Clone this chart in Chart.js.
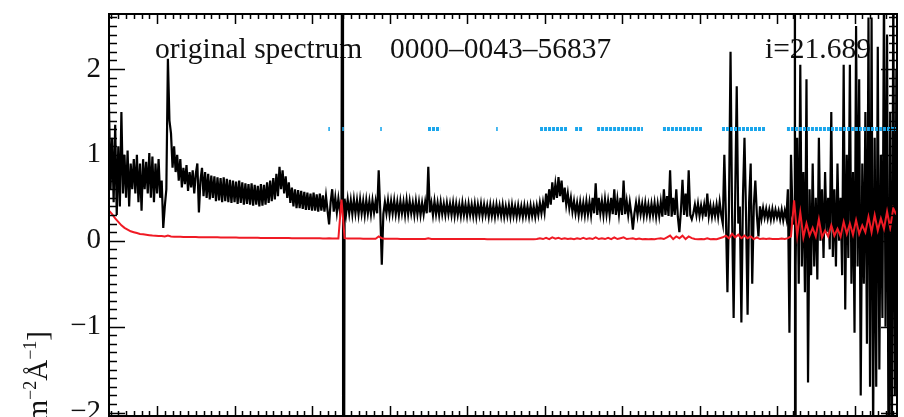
<!DOCTYPE html>
<html>
<head>
<meta charset="utf-8">
<script src="https://cdn.jsdelivr.net/npm/chart.js@4.4.0/dist/chart.umd.min.js"></script>
<style>
  html, body { margin: 0; padding: 0; background: #fff; }
  #wrap { width: 904px; height: 417px; position: relative; }
</style>
</head>
<body>
<div id="wrap"><canvas id="spec"></canvas></div>
<script>
// wavelength grid of the spectrum (Angstrom)
const waveStart = 3690;
const waveStep = 10;
const errStep = 20;

// flux (10^-17 erg s^-1 cm^-2 A^-1)
const flux = [
  1.55, 0.60, 1.20, 0.45, 1.35, 0.30, 1.10, 0.40, 1.50, 0.55,
  1.00, 0.50, 1.05, 0.40, 0.90, 0.60, 0.95, 0.55, 1.00, 0.45,
  0.90, 0.35, 0.95, 0.60, 0.92, 0.55, 1.02, 0.50, 0.98, 0.45,
  0.90, 0.55, 0.95, 0.50, 0.70, 0.15, 0.40, 0.60, 2.12, 1.40,
  1.25, 0.85, 1.10, 0.80, 1.00, 0.70, 0.95, 0.62, 0.85, 0.66,
  0.88, 0.58, 0.80, 0.62, 0.82, 0.55, 0.78, 0.90, 0.33, 0.70,
  0.85, 0.52, 0.80, 0.50, 0.78, 0.48, 0.76, 0.50, 0.75, 0.46,
  0.74, 0.47, 0.73, 0.45, 0.74, 0.46, 0.72, 0.45, 0.71, 0.44,
  0.70, 0.45, 0.69, 0.43, 0.70, 0.44, 0.68, 0.42, 0.67, 0.43,
  0.66, 0.42, 0.67, 0.41, 0.65, 0.42, 0.64, 0.40, 0.66, 0.41,
  0.65, 0.42, 0.68, 0.44, 0.70, 0.46, 0.73, 0.48, 0.78, 0.52,
  0.86, 0.60, 0.82, 0.55, 0.75, 0.50, 0.68, 0.44, 0.62, 0.40,
  0.60, 0.38, 0.59, 0.38, 0.58, 0.37, 0.57, 0.36, 0.56, 0.36,
  0.55, 0.35, 0.56, 0.35, 0.54, 0.34, 0.55, 0.35, 0.53, 0.34,
  0.52, 0.35, 0.19, 0.45, 0.60, 0.34, 0.50, 0.33, 0.49, 0.34,
  0.48, 0.33, 0.49, 0.32, 0.48, 0.32, 0.47, 0.31, 0.48, 0.32,
  0.47, 0.31, 0.48, 0.32, 0.46, 0.30, 0.47, 0.32, 0.46, 0.31,
  0.47, 0.33, 0.46, 0.32, 0.82, 0.35, -0.28, 0.31, 0.45, 0.32,
  0.47, 0.31, 0.46, 0.32, 0.47, 0.31, 0.45, 0.30, 0.46, 0.32,
  0.45, 0.30, 0.47, 0.31, 0.46, 0.32, 0.44, 0.30, 0.46, 0.31,
  0.45, 0.30, 0.44, 0.31, 0.45, 0.32, 0.86, 0.33, 0.44, 0.30,
  0.46, 0.31, 0.44, 0.30, 0.45, 0.31, 0.43, 0.30, 0.44, 0.31,
  0.43, 0.30, 0.44, 0.29, 0.43, 0.30, 0.42, 0.29, 0.44, 0.30,
  0.42, 0.29, 0.43, 0.30, 0.42, 0.29, 0.43, 0.28, 0.42, 0.30,
  0.43, 0.29, 0.42, 0.30, 0.41, 0.28, 0.42, 0.29, 0.41, 0.28,
  0.42, 0.30, 0.41, 0.29, 0.42, 0.28, 0.40, 0.29, 0.41, 0.28,
  0.42, 0.29, 0.40, 0.28, 0.41, 0.29, 0.40, 0.28, 0.41, 0.29,
  0.40, 0.28, 0.41, 0.29, 0.40, 0.28, 0.41, 0.30, 0.44, 0.32,
  0.45, 0.33, 0.55, 0.38, 0.60, 0.42, 0.68, 0.48, 0.66, 0.50,
  0.74, 0.52, 0.70, 0.45, 0.62, 0.42, 0.55, 0.38, 0.50, 0.34,
  0.46, 0.32, 0.44, 0.30, 0.45, 0.31, 0.44, 0.30, 0.46, 0.31,
  0.45, 0.30, 0.50, 0.32, 0.67, 0.30, 0.50, 0.32, 0.46, 0.30,
  0.48, 0.31, 0.46, 0.30, 0.50, 0.31, 0.60, 0.30, 0.48, 0.31,
  0.50, 0.30, 0.70, 0.31, 0.46, 0.30, 0.45, 0.31, 0.13, 0.32,
  0.44, 0.30, 0.45, 0.31, 0.43, 0.29, 0.44, 0.30, 0.42, 0.29,
  0.43, 0.30, 0.44, 0.28, 0.43, 0.29, 0.45, 0.28, 0.60, 0.30,
  0.52, 0.29, 0.82, 0.28, 0.50, 0.30, 0.60, 0.28, 0.10, 0.35,
  0.71, 0.30, 0.55, 0.28, 0.82, 0.30, 0.25, 0.32, 0.42, 0.30,
  0.43, 0.29, 0.41, 0.30, 0.42, 0.28, 0.55, 0.29, 0.41, 0.28,
  0.40, 0.29, 0.42, 0.28, 0.45, 0.30, 0.20, 1.00, 0.30, -0.60,
  0.40, 2.20, 0.30, -0.90, 0.50, 1.80, 0.20, 0.40, -0.95, 0.50,
  1.20, 0.30, -0.86, 0.45, 0.90, -0.50, 0.40, 0.70, 0.30, 0.05,
  0.40, 0.26, 0.38, 0.27, 0.37, 0.26, 0.36, 0.25, 0.37, 0.26,
  0.36, 0.27, 0.35, 0.25, 0.36, 0.24, 0.35, 0.26, 0.60, -1.07,
  1.00, 0.30, 0.20, -0.30, 1.20, -0.50, 2.05, -0.30, 0.80, -0.60,
  1.88, -1.65, 0.60, -0.40, 0.90, -0.30, 0.50, -0.45, 1.20, 0.00,
  0.60, -0.20, 0.80, 0.10, 0.50, -0.10, 1.50, -0.19, 0.60, -0.30,
  0.90, 0.00, 0.50, -0.40, 2.05, -0.80, 1.00, -0.20, 2.05, -0.50,
  0.80, -1.07, 2.50, -0.30, 1.88, -1.80, 0.90, -0.50, 1.50, -1.20,
  2.60, -1.70, 2.60, -2.30, 1.20, -1.70, 2.26, -1.50, 1.00, -0.90,
  3.00, -1.00, 2.40, -3.00, 1.50, -3.00, 3.00, -1.80, 2.00
];

// single bad pixels that run off both ends of the plot: [wavelength, flux]
const badPixels = [[5199, 9], [5201, -9], [8115, 9], [8117, -9]];

// error spectrum (red), on a 20 A grid
const fluxErr = [
  0.35, 0.31, 0.26, 0.22, 0.18, 0.15, 0.13, 0.11, 0.10, 0.09,
  0.08, 0.075, 0.07, 0.065, 0.06, 0.058, 0.055, 0.055, 0.05, 0.06,
  0.05, 0.048, 0.047, 0.046, 0.045, 0.045, 0.044, 0.043, 0.043, 0.042,
  0.042, 0.041, 0.041, 0.04, 0.04, 0.04, 0.039, 0.039, 0.038, 0.038,
  0.037, 0.037, 0.036, 0.036, 0.035, 0.035, 0.035, 0.034, 0.034, 0.033,
  0.033, 0.033, 0.032, 0.032, 0.032, 0.033, 0.032, 0.031, 0.031, 0.03,
  0.03, 0.03, 0.03, 0.029, 0.029, 0.029, 0.028, 0.028, 0.028, 0.027,
  0.027, 0.03, 0.027, 0.026, 0.026, 0.48, 0.03, 0.026, 0.025, 0.025,
  0.025, 0.025, 0.024, 0.024, 0.024, 0.024, 0.024, 0.05, 0.03, 0.024,
  0.023, 0.023, 0.023, 0.023, 0.022, 0.022, 0.022, 0.022, 0.022, 0.022,
  0.021, 0.021, 0.021, 0.03, 0.021, 0.021, 0.02, 0.02, 0.02, 0.02,
  0.02, 0.02, 0.02, 0.02, 0.02, 0.02, 0.02, 0.02, 0.02, 0.02,
  0.02, 0.02, 0.019, 0.019, 0.019, 0.019, 0.019, 0.019, 0.019, 0.019,
  0.018, 0.018, 0.018, 0.018, 0.018, 0.018, 0.018, 0.018, 0.02, 0.03,
  0.02, 0.035, 0.02, 0.04, 0.025, 0.035, 0.02, 0.03, 0.02, 0.025,
  0.018, 0.03, 0.02, 0.035, 0.02, 0.03, 0.02, 0.04, 0.02, 0.03,
  0.02, 0.035, 0.02, 0.04, 0.02, 0.03, 0.04, 0.02, 0.025, 0.03,
  0.018, 0.025, 0.018, 0.02, 0.018, 0.02, 0.018, 0.025, 0.03, 0.02,
  0.04, 0.06, 0.02, 0.05, 0.03, 0.06, 0.02, 0.05, 0.03, 0.02,
  0.018, 0.02, 0.018, 0.03, 0.018, 0.02, 0.018, 0.03, 0.04, 0.06,
  0.03, 0.08, 0.04, 0.07, 0.03, 0.06, 0.03, 0.05, 0.02, 0.04,
  0.02, 0.025, 0.02, 0.025, 0.02, 0.02, 0.02, 0.025, 0.02, 0.03,
  0.05, 0.47, 0.06, 0.33, 0.04, 0.20, 0.06, 0.15, 0.05, 0.25,
  0.04, 0.12, 0.05, 0.18, 0.06, 0.14, 0.05, 0.22, 0.08, 0.20,
  0.07, 0.24, 0.08, 0.18, 0.10, 0.28, 0.10, 0.30, 0.12, 0.26,
  0.14, 0.34, 0.15, 0.38, 0.30
];

// masked pixel ranges (blue marks), wavelength start/end
const maskRanges = [
  [5105, 5115], [5195, 5205], [5440, 5450], [5748, 5826], [6188, 6198],
  [6471, 6645], [6697, 6748], [6839, 7135], [7264, 7522], [7645, 7923],
  [8064, 8774]
];
const maskLevel = 1.3;

const xRange = [3690, 8774];
const yRange = [-2.04, 2.64];
const yTicks = [-2, -1, 0, 1, 2];
const xMajorStep = 500;
const xMinorStep = 50;
const yMinorStep = 0.1;

const serif = '"Liberation Serif", "Times New Roman", serif';

const specData = flux.map((v, i) => ({ x: waveStart + i * waveStep, y: v }))
  .concat(badPixels.map(([w, v]) => ({ x: w, y: v })))
  .sort((p, q) => p.x - q.x);
const errData = fluxErr.map((v, i) => ({ x: waveStart + i * errStep, y: v }));
const maskData = [];
maskRanges.forEach(([a, b]) => {
  maskData.push({ x: a, y: maskLevel }, { x: b, y: maskLevel }, { x: b + 1, y: null });
});

// IDL style box with inward ticks on all four sides
const frameTicks = {
  id: 'frameTicks',
  afterDatasetsDraw(chart) {
    const { ctx, chartArea: a, scales: { x, y } } = chart;
    ctx.save();
    ctx.strokeStyle = '#000';
    ctx.lineWidth = 1.5;
    ctx.beginPath();
    const x0 = Math.ceil(xRange[0] / xMinorStep) * xMinorStep;
    for (let w = x0; w <= xRange[1]; w += xMinorStep) {
      const px = Math.round(x.getPixelForValue(w)) + 0.5;
      const len = (w % xMajorStep === 0) ? 10 : 5;
      ctx.moveTo(px, a.top); ctx.lineTo(px, a.top + len);
      ctx.moveTo(px, a.bottom); ctx.lineTo(px, a.bottom - len);
    }
    for (let k = Math.ceil(yRange[0] * 10); k <= yRange[1] * 10; k++) {
      const v = k * yMinorStep;
      const py = Math.round(y.getPixelForValue(v)) + 0.5;
      const len = (k % 10 === 0) ? 16 : 8;
      ctx.moveTo(a.left, py); ctx.lineTo(a.left + len, py);
      ctx.moveTo(a.right, py); ctx.lineTo(a.right - len, py);
    }
    ctx.stroke();
    ctx.lineWidth = 2;
    ctx.strokeRect(a.left, a.top, a.right - a.left, a.bottom - a.top);
    ctx.restore();
  }
};

// annotations and the (cut off) y axis title
const annot = {
  id: 'annot',
  beforeDatasetsDraw(chart) {
    const { ctx, chartArea: a } = chart;
    ctx.save();
    ctx.fillStyle = '#111';
    ctx.font = '29.5px ' + serif;
    ctx.textBaseline = 'alphabetic';
    ctx.fillText('original spectrum', a.left + 46, a.top + 44);
    ctx.fillText('0000\u20130043\u201356837', a.left + 281, a.top + 44);
    ctx.fillText('i=21.689', a.left + 656, a.top + 44);
    ctx.restore();
  },
  afterDraw(chart) {
    const { ctx } = chart;
    const parts = [
      ['Flux [10', 0], ['\u221217', 1], [' erg s', 0], ['\u22121', 1],
      [' cm', 0], ['\u22122', 1], ['\u00c5', 0], ['\u22121', 1], [']', 0]
    ];
    const big = '29px ' + serif, small = '18px ' + serif;
    ctx.save();
    ctx.fillStyle = '#111';
    ctx.translate(47, 331);
    ctx.rotate(-Math.PI / 2);
    let total = 0;
    parts.forEach(([t, s]) => { ctx.font = s ? small : big; total += ctx.measureText(t).width; });
    let pos = -total;
    parts.forEach(([t, s]) => {
      ctx.font = s ? small : big;
      ctx.fillText(t, pos, s ? -11 : 0);
      pos += ctx.measureText(t).width;
    });
    ctx.restore();
  }
};

new Chart(document.getElementById('spec'), {
  type: 'line',
  data: {
    datasets: [
      {
        label: 'mask', data: maskData, order: 1,
        borderColor: '#1aa6ec', borderWidth: 4, borderDash: [3, 1],
        pointRadius: 0, spanGaps: false, clip: 0
      },
      {
        label: 'error', data: errData, order: 2,
        borderColor: '#f01a24', borderWidth: 2,
        pointRadius: 0, tension: 0, clip: 0
      },
      {
        label: 'flux', data: specData, order: 3,
        borderColor: '#000', borderWidth: 2.2,
        pointRadius: 0, tension: 0, clip: 0
      }
    ]
  },
  options: {
    responsive: true,
    maintainAspectRatio: false,
    animation: false,
    layout: { padding: { top: 14, right: 7, bottom: 1, left: 0 } },
    plugins: { legend: { display: false }, tooltip: { enabled: false } },
    scales: {
      x: { type: 'linear', min: xRange[0], max: xRange[1], display: false },
      y: {
        type: 'linear', min: yRange[0], max: yRange[1],
        grid: { display: false, drawTicks: false },
        border: { display: false },
        ticks: {
          stepSize: 1, includeBounds: false, padding: 8,
          color: '#111', font: { family: serif, size: 29 },
          callback: v => yTicks.includes(v) ? (v < 0 ? '\u2212' + Math.abs(v) : String(v)) : ''
        },
        afterFit(s) { s.width = 109; s.paddingTop = 0; s.paddingBottom = 0; }
      }
    }
  },
  plugins: [frameTicks, annot]
});
</script>
</body>
</html>
